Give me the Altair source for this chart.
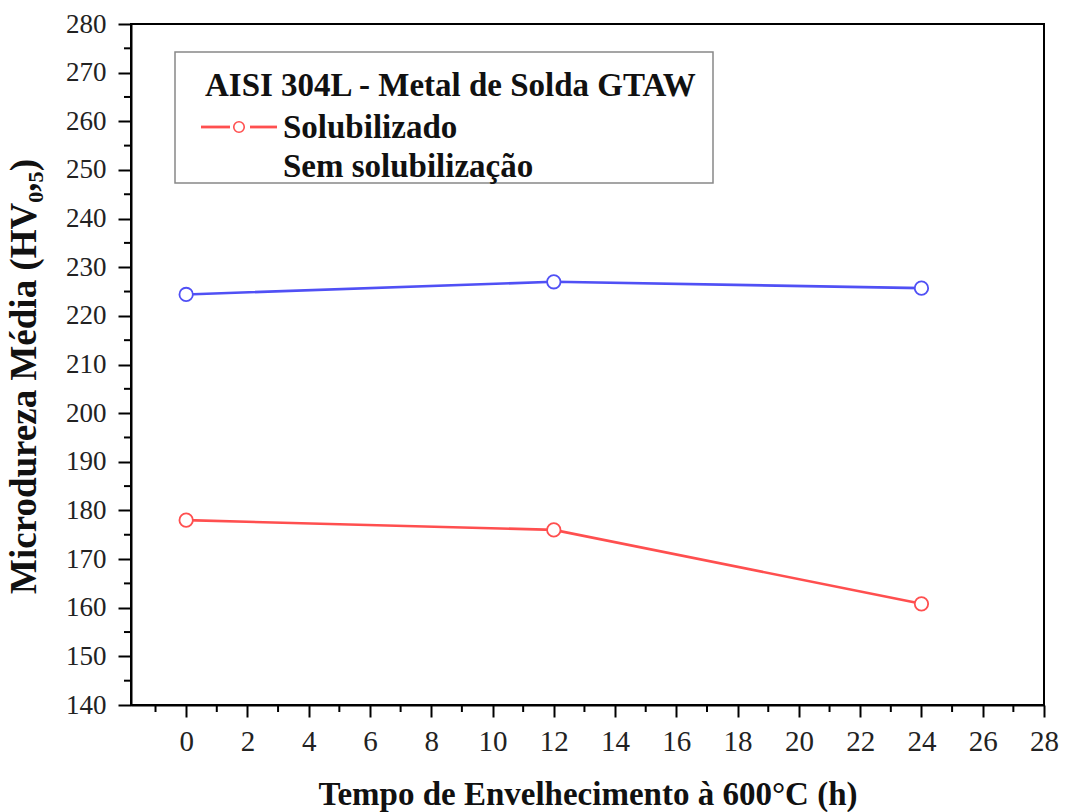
import altair as alt
import pandas as pd

hours = [0, 12, 24]
solubilizado = [178.0, 176.0, 160.8]
sem_solubilizacao = [224.4, 227.0, 225.7]
series_names = ["Solubilizado", "Sem solubilização"]
series_colors = ["#ff4f4f", "#5050f5"]
legend_title = "AISI 304L - Metal de Solda GTAW"
x_major = list(range(0, 29, 2))
x_minor = list(range(-1, 28, 2))
y_major = list(range(140, 281, 10))
y_minor = list(range(145, 280, 10))

rows = []
for h, v in zip(hours, solubilizado):
    rows.append({"h": h, "v": v, "s": series_names[0]})
for h, v in zip(hours, sem_solubilizacao):
    rows.append({"h": h, "v": v, "s": series_names[1]})
df = pd.DataFrame(rows)

FONT = "Liberation Serif"
W, H = 913, 681

xscale = alt.Scale(domain=[-1.8, 28], nice=False, zero=False)
yscale = alt.Scale(domain=[140, 280], nice=False, zero=False)
cscale = alt.Scale(domain=series_names, range=series_colors)

xaxis = alt.Axis(
    values=x_major, tickSize=12,
    grid=False, domainColor="black", domainWidth=2, tickColor="black", tickWidth=2,
    labelFont=FONT, labelFontSize=29, labelColor="#222", labelPadding=10,
    title="Tempo de Envelhecimento à 600°C (h)", titleFont=FONT, titleFontSize=33,
    titleFontWeight="bold", titleColor="#111", titlePadding=22, labelFlush=False,
)
yaxis = alt.Axis(
    values=y_major, tickSize=13,
    grid=False, domainColor="black", domainWidth=2, tickColor="black", tickWidth=2,
    labelFont=FONT, labelFontSize=27, labelColor="#222", labelPadding=12,
    title="Microdureza Média (HV₀,₅)", titleFont=FONT, titleFontSize=37,
    titleFontWeight="bold", titleColor="#111", titlePadding=22, labelFlush=False,
    titleY=352,
)

base = alt.Chart(df)
lines = base.mark_line(strokeWidth=2.6).encode(
    x=alt.X("h:Q", scale=xscale, axis=xaxis),
    y=alt.Y("v:Q", scale=yscale, axis=yaxis),
    color=alt.Color("s:N", scale=cscale, legend=None),
    detail="s:N",
)
points = base.mark_point(shape="circle", size=180, filled=False, fill="white",
                         strokeWidth=1.8, opacity=1).encode(
    x=alt.X("h:Q", scale=xscale, axis=xaxis),
    y=alt.Y("v:Q", scale=yscale, axis=yaxis),
    color=alt.Color("s:N", scale=cscale, legend=None),
)

xminor = alt.Chart(pd.DataFrame({"m": x_minor})).mark_rule(color="black", strokeWidth=2).encode(
    x=alt.X("m:Q", scale=xscale, axis=xaxis), y=alt.value(H), y2=alt.value(H + 7))
yminor = alt.Chart(pd.DataFrame({"m": y_minor})).mark_rule(color="black", strokeWidth=2).encode(
    y=alt.Y("m:Q", scale=yscale, axis=yaxis), x=alt.value(0), x2=alt.value(-7))

one = pd.DataFrame({"a": [0]})
box = alt.Chart(one).mark_rect(fill="white", stroke="#888", strokeWidth=1.5).encode(
    x=alt.value(44), x2=alt.value(582), y=alt.value(28), y2=alt.value(159))
ttl = alt.Chart(one).mark_text(text=legend_title, font=FONT, fontSize=33, fontWeight="bold",
                               align="left", baseline="middle", color="#111").encode(
    x=alt.value(74), y=alt.value(62))
leg_line1 = alt.Chart(one).mark_rule(color=series_colors[0], strokeWidth=2.8).encode(
    x=alt.value(70), x2=alt.value(99), y=alt.value(103))
leg_line2 = alt.Chart(one).mark_rule(color=series_colors[0], strokeWidth=2.8).encode(
    x=alt.value(119), x2=alt.value(146), y=alt.value(103))
leg_pt = alt.Chart(one).mark_point(shape="circle", size=110, filled=False, fill="white",
                                   color=series_colors[0], strokeWidth=1.6, opacity=1).encode(
    x=alt.value(108), y=alt.value(103))
t1 = alt.Chart(one).mark_text(text=series_names[0], font=FONT, fontSize=33, fontWeight="bold",
                              align="left", baseline="middle", color="#111").encode(
    x=alt.value(152), y=alt.value(104))
t2 = alt.Chart(one).mark_text(text=series_names[1], font=FONT, fontSize=33, fontWeight="bold",
                              align="left", baseline="middle", color="#111").encode(
    x=alt.value(152), y=alt.value(143))

chart = alt.layer(lines, points, xminor, yminor, box, ttl, leg_line1, leg_line2, leg_pt, t1, t2).properties(
    width=W, height=H,
    autosize=alt.AutoSizeParams(type="none"),
    padding={"left": 131, "top": 24, "right": 21, "bottom": 107},
    background="white",
).configure_view(stroke="black", strokeWidth=2)

chart.save("out.html", embed_options={"renderer": "svg", "actions": False})
